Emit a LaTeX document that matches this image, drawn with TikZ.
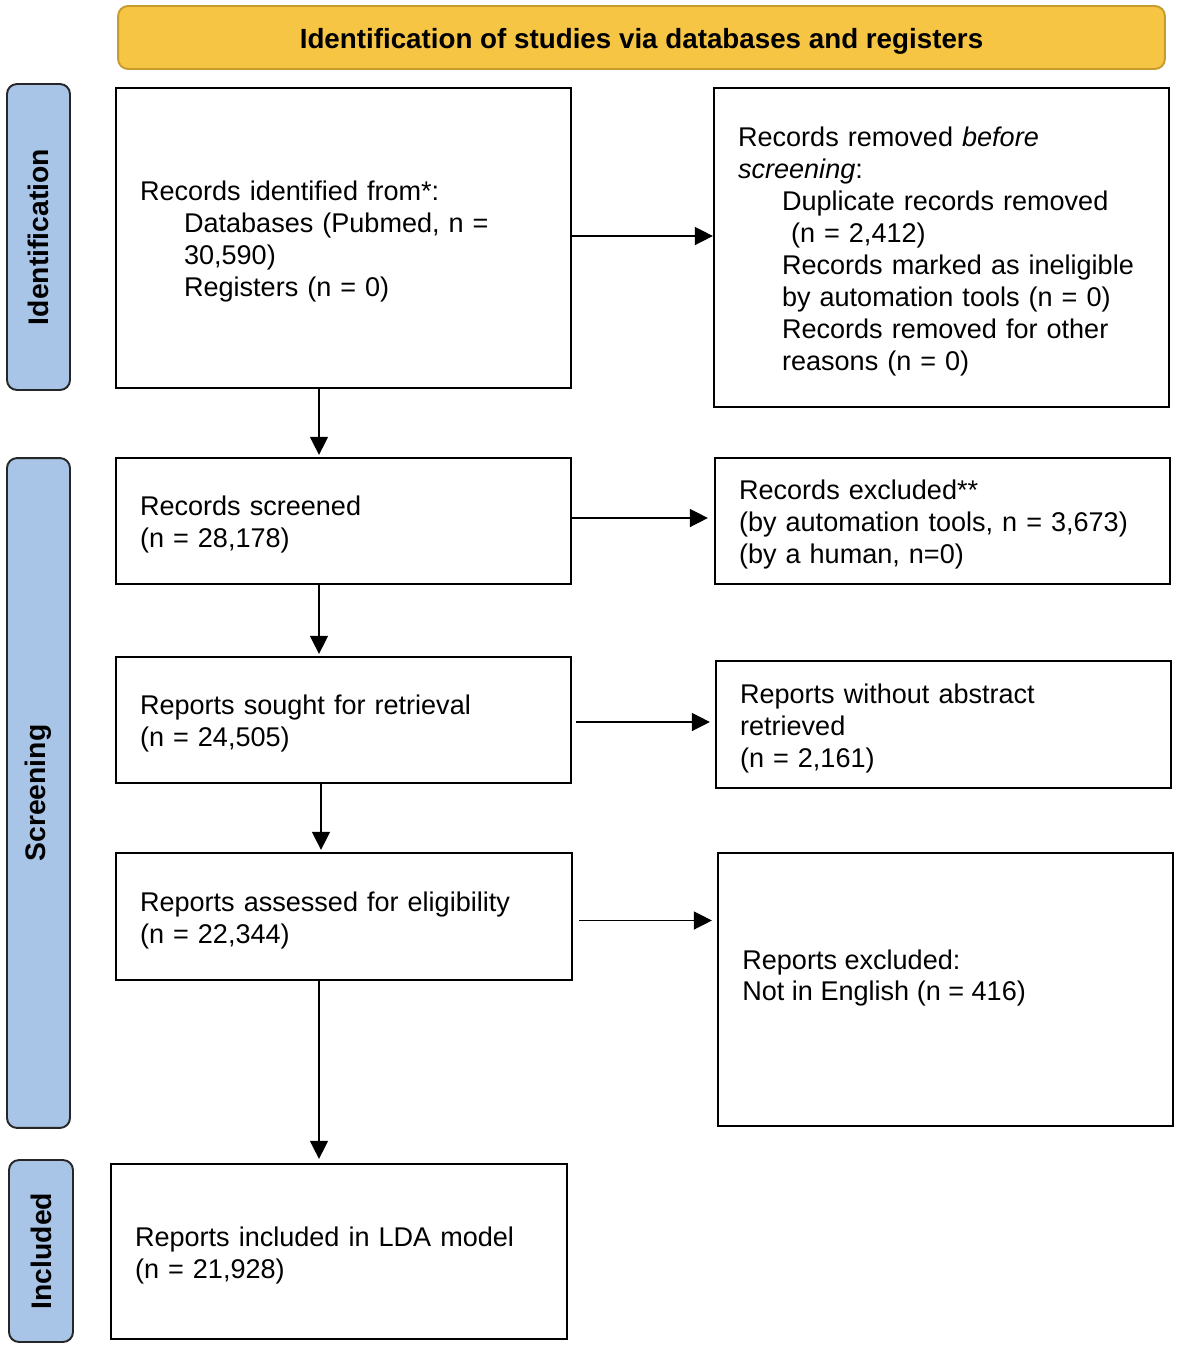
\documentclass[tikz,border=0pt]{standalone}
\usepackage{fontspec}
\setmainfont{Liberation Sans}
\usetikzlibrary{arrows.meta}
\definecolor{hdrfill}{HTML}{F6C544}
\definecolor{hdrdraw}{HTML}{C89B2E}
\definecolor{sidefill}{HTML}{A8C4E7}
\begin{document}
\begin{tikzpicture}[x=0.02cm,y=-0.02cm,
  every node/.style={font=\fontsize{15.4}{18.2}\selectfont},
  box/.style={draw=black,line width=1.3pt,rectangle,inner xsep=0.48cm,inner ysep=0pt,align=left,anchor=center,
    execute at begin node={\rule{0pt}{15.6pt}}},
  hdr/.style={draw=hdrdraw,fill=hdrfill,line width=1.1pt,rounded corners=0.2cm,minimum width=20.94cm,minimum height=1.26cm,
    font=\fontsize{15.8}{18}\selectfont\bfseries,execute at begin node={\rule{0pt}{15.6pt}}},
  side/.style={draw=black!85,fill=sidefill,line width=1.1pt,rounded corners=0.2cm,rotate=90,font=\fontsize{16.1}{18}\selectfont\bfseries},
  arr/.style={line width=0.8pt,-{Triangle[length=0.36cm,width=0.36cm]}}
]
\useasboundingbox (0,0) rectangle (1181,1352);
\newcommand{\ind}{\hspace*{0.88cm}}
% header
\node[hdr] (hdr) at (641.5,37.5) {Identification of studies via databases and registers};
% side bars
\node[side,minimum width=6.12cm,minimum height=1.26cm] (sid) at (38.5,237) {Identification};
\node[side,minimum width=13.4cm,minimum height=1.26cm] (sscr) at (38.5,793) {Screening};
\node[side,minimum width=3.64cm,minimum height=1.28cm] (sinc) at (41,1251) {Included};
% left boxes
\node[box,text width=8.14cm,minimum height=6cm] (b1) at (343.5,238)
  {Records identified from*:\\ \ind Databases (Pubmed, n =\\ \ind 30,590)\\ \ind Registers (n = 0)};
\node[box,text width=8.14cm,minimum height=2.52cm] (b2) at (343.5,521)
  {Records screened\\(n = 28,178)};
\node[box,text width=8.14cm,minimum height=2.52cm] (b3) at (343.5,720)
  {Reports sought for retrieval\\(n = 24,505)};
\node[box,text width=8.16cm,minimum height=2.54cm] (b4) at (344,916.5)
  {Reports assessed for eligibility\\(n = 22,344)};
\node[box,text width=8.16cm,minimum height=3.5cm] (b5) at (339,1251.5)
  {Reports included in LDA model\\(n = 21,928)};
% right boxes
\node[box,text width=8.14cm,minimum height=6.38cm] (r1) at (941.5,247.5)
  {Records removed \textit{before}\\\textit{screening}:\\ \ind Duplicate records removed\\ \ind\ (n = 2,412)\\ \ind Records marked as ineligible\\ \ind by automation tools (n = 0)\\ \ind Records removed for other\\ \ind reasons (n = 0)};
\node[box,text width=8.14cm,minimum height=2.52cm] (r2) at (942.5,521)
  {Records excluded**\\(by automation tools, n = 3,673)\\(by a human, n=0)};
\node[box,text width=8.14cm,minimum height=2.54cm] (r3) at (943.5,724.5)
  {Reports without abstract\\retrieved\\(n = 2,161)};
\node[draw=black,line width=1.3pt,rectangle,inner sep=0pt,minimum width=9.1cm,minimum height=5.46cm] (r4) at (945.5,989.5) {};
\node[anchor=west,align=left,inner sep=0pt] (r4t) at (742,978)
  {Reports excluded:\\Not in English (n = 416)};
% arrows
\coordinate (ax) at (319,0);
\coordinate (ax2) at (321,0);
\draw[arr] ([yshift=0.04cm]b1.east) -- ([yshift=0.04cm]b1.east -| r1.west) ;
\draw[arr,shorten >=0.12cm] (b2.east) ++(0,-3) coordinate (a2s) (a2s) -- (a2s -| r2.west);
\draw[arr,shorten >=0.1cm,shorten <=0.08cm] ([yshift=-0.04cm]b3.east) -- ([yshift=-0.04cm]b3.east -| r3.west);
\draw[arr,shorten >=0.1cm,shorten <=0.12cm] ([yshift=-0.08cm]b4.east) -- ([yshift=-0.08cm]b4.east -| r4.west);
\draw[arr,shorten >=0.04cm] (b1.south -| ax) -- (b2.north -| ax);
\draw[arr,shorten >=0.04cm] (b2.south -| ax) -- (b3.north -| ax);
\draw[arr,shorten >=0.04cm] (b3.south -| ax2) -- (b4.north -| ax2);
\draw[arr,shorten >=0.08cm] (b4.south -| ax) -- (b5.north -| ax);
\end{tikzpicture}
\end{document}
